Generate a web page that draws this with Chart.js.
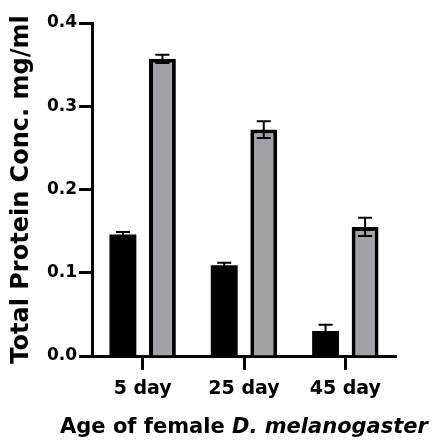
<!DOCTYPE html>
<html>
<head>
<meta charset="utf-8">
<script src="https://cdn.jsdelivr.net/npm/chart.js@4.4.1/dist/chart.umd.min.js"></script>
<style>
  html, body { margin: 0; padding: 0; background: #fff; }
</style>
</head>
<body>
<canvas id="chart" width="433" height="441"></canvas>
<script>
const ages = ["5 day", "25 day", "45 day"];
const blackValues = [0.146, 0.109, 0.030];
const blackErrors = [0.003, 0.003, 0.0075];
const grayValues = [0.357, 0.272, 0.155];
const grayErrors = [0.005, 0.010, 0.011];
const yTicks = [0.0, 0.1, 0.2, 0.3, 0.4];
const yTitle = "Total Protein Conc. mg/ml";
const xTitlePlain = "Age of female ";
const xTitleItalic = "D. melanogaster";

const FONT = "'DejaVu Sans', 'Liberation Sans', sans-serif";

// error bars (mean +/- error), drawn over the bars
const errorBars = {
  id: "errorBars",
  afterDatasetsDraw(chart) {
    const ctx = chart.ctx;
    const y = chart.scales.y;
    chart.data.datasets.forEach((ds, i) => {
      const meta = chart.getDatasetMeta(i);
      meta.data.forEach((bar, j) => {
        const v = ds.data[j], e = ds.errors[j];
        const top = y.getPixelForValue(v + e);
        const bot = y.getPixelForValue(v - e);
        ctx.save();
        ctx.strokeStyle = "#000";
        ctx.lineWidth = 2;
        ctx.beginPath();
        ctx.moveTo(bar.x, top); ctx.lineTo(bar.x, bot);
        ctx.moveTo(bar.x - 7, top); ctx.lineTo(bar.x + 7, top);
        ctx.moveTo(bar.x - 7, bot); ctx.lineTo(bar.x + 7, bot);
        ctx.stroke();
        ctx.restore();
      });
    });
  }
};

// x title with the species name in italics
const xTitle = {
  id: "xTitle",
  afterDraw(chart) {
    const ctx = chart.ctx;
    const area = chart.chartArea;
    const plainFont = "bold 21px " + FONT;
    const italicFont = "italic bold 21px " + FONT;
    ctx.save();
    ctx.font = plainFont;
    const w1 = ctx.measureText(xTitlePlain).width;
    ctx.font = italicFont;
    const w2 = ctx.measureText(xTitleItalic).width;
    let x = (area.left + area.right) / 2 - (w1 + w2) / 2;
    const y = 433;
    ctx.fillStyle = "#000";
    ctx.textBaseline = "alphabetic";
    ctx.textAlign = "left";
    ctx.font = plainFont;
    ctx.fillText(xTitlePlain, x, y);
    ctx.font = italicFont;
    ctx.fillText(xTitleItalic, x + w1, y);
    ctx.restore();
  }
};

new Chart(document.getElementById("chart"), {
  type: "bar",
  data: {
    labels: ages,
    datasets: [
      {
        data: blackValues,
        errors: blackErrors,
        backgroundColor: "#000",
        borderColor: "#000",
        borderWidth: 0,
        barPercentage: 0.68,
        categoryPercentage: 0.78
      },
      {
        data: grayValues,
        errors: grayErrors,
        backgroundColor: "#a1a1a6",
        borderColor: "#000",
        borderWidth: 4,
        borderSkipped: "start",
        barPercentage: 0.68,
        categoryPercentage: 0.78
      }
    ]
  },
  options: {
    responsive: false,
    animation: false,
    layout: { padding: { top: 23, right: 37, bottom: 0, left: 0 } },
    plugins: {
      legend: { display: false },
      tooltip: { enabled: false }
    },
    scales: {
      x: {
        offset: true,
        grid: {
          display: true,
          offset: false,
          drawOnChartArea: false,
          drawTicks: true,
          tickLength: 14,
          tickWidth: 3,
          tickColor: "#000"
        },
        border: { display: true, color: "#000", width: 3 },
        ticks: {
          color: "#000",
          padding: 8,
          font: { family: FONT, weight: "bold", size: 19 }
        },
        afterFit(scale) { scale.height = 85; }
      },
      y: {
        min: 0,
        max: 0.4,
        afterBuildTicks(scale) { scale.ticks = yTicks.map(v => ({ value: v })); },
        grid: {
          display: true,
          drawOnChartArea: false,
          drawTicks: true,
          tickLength: 13,
          tickWidth: 3,
          tickColor: "#000"
        },
        border: { display: true, color: "#000", width: 3 },
        ticks: {
          color: "#000",
          padding: 2,
          font: { family: FONT, weight: "bold", size: 17 },
          callback: v => Number(v).toFixed(1)
        },
        title: {
          display: true,
          text: yTitle,
          color: "#000",
          padding: { top: 7, bottom: 0 },
          font: { family: FONT, weight: "bold", size: 24 }
        },
        afterFit(scale) { scale.width = 92; }
      }
    }
  },
  plugins: [errorBars, xTitle]
});
</script>
</body>
</html>
